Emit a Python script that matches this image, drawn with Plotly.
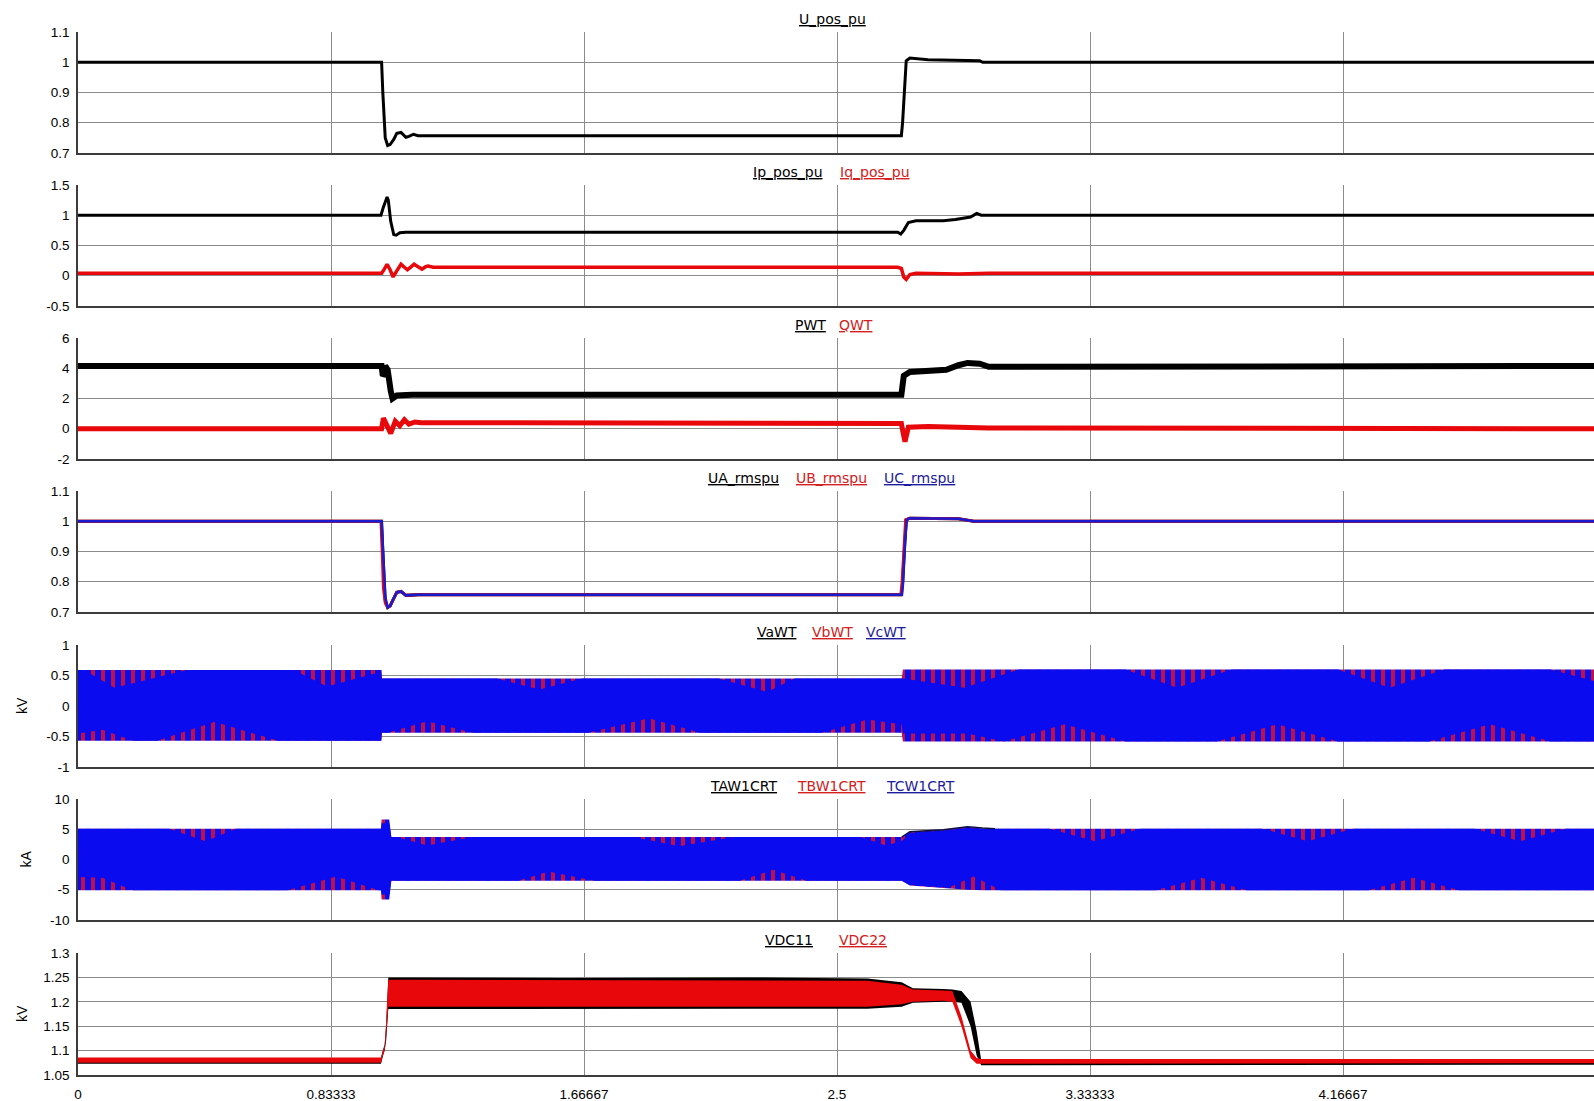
import plotly.graph_objects as go

W, H = 1594, 1101
X_LEFT = 78
T_MAX = 4.9934

# ---------------- axis ticks ----------------
xtick_vals = [0, 0.83333, 1.66667, 2.5, 3.33333, 4.16667]
xtick_text = ["0", "0.83333", "1.66667", "2.5", "3.33333", "4.16667"]

p1_ticks = [0.7, 0.8, 0.9, 1.0, 1.1]
p1_text = ["0.7", "0.8", "0.9", "1", "1.1"]
p2_ticks = [-0.5, 0, 0.5, 1, 1.5]
p2_text = ["-0.5", "0", "0.5", "1", "1.5"]
p3_ticks = [-2, 0, 2, 4, 6]
p3_text = ["-2", "0", "2", "4", "6"]
p4_ticks = [0.7, 0.8, 0.9, 1.0, 1.1]
p4_text = ["0.7", "0.8", "0.9", "1", "1.1"]
p5_ticks = [-1, -0.5, 0, 0.5, 1]
p5_text = ["-1", "-0.5", "0", "0.5", "1"]
p6_ticks = [-10, -5, 0, 5, 10]
p6_text = ["-10", "-5", "0", "5", "10"]
p7_ticks = [1.05, 1.1, 1.15, 1.2, 1.25, 1.3]
p7_text = ["1.05", "1.1", "1.15", "1.2", "1.25", "1.3"]

# ---------------- panel 1: U_pos_pu ----------------
u_t = [0, 1.0, 1.004, 1.008, 1.012, 1.02, 1.028, 1.04, 1.05, 1.064, 1.08, 1.09, 1.105, 1.12,
       2.712, 2.716, 2.722, 2.728, 2.74, 2.8, 2.97, 2.98, 5]
u_v = [1.0, 1.0, 0.9, 0.82, 0.75, 0.725, 0.728, 0.745, 0.765, 0.768, 0.752, 0.755, 0.762, 0.757,
       0.757, 0.80, 0.9, 1.005, 1.014, 1.008, 1.005, 1.0, 1.0]

# ---------------- panel 2: Ip / Iq ----------------
ip_t = [0, 0.998, 1.005, 1.012, 1.018, 1.022, 1.03, 1.04, 1.048, 1.06, 1.08, 2.70, 2.71, 2.72,
        2.735, 2.76, 2.85, 2.89, 2.94, 2.96, 2.975, 5]
ip_v = [1.0, 1.0, 1.12, 1.22, 1.3, 1.25, 0.9, 0.68, 0.67, 0.71, 0.72, 0.72, 0.69, 0.75,
        0.88, 0.91, 0.91, 0.93, 0.97, 1.03, 1.0, 1.0]
iq_t = [0, 1.0, 1.008, 1.018, 1.028, 1.038, 1.05, 1.064, 1.075, 1.085, 1.095, 1.107, 1.12, 1.133,
        1.145, 1.153, 1.17, 2.70, 2.712, 2.72, 2.728, 2.74, 2.76, 2.9, 3.0, 5]
iq_v = [0.04, 0.04, 0.1, 0.19, 0.1, -0.02, 0.08, 0.19, 0.14, 0.1, 0.14, 0.19, 0.15, 0.11,
        0.15, 0.16, 0.14, 0.14, 0.12, -0.02, -0.06, 0.02, 0.04, 0.03, 0.04, 0.04]

# ---------------- panel 3: PWT / QWT ----------------
pwt_t = [0, 1.0, 1.004, 1.008, 1.012, 1.02, 1.03, 1.036, 1.05, 1.1, 2.712, 2.72, 2.74, 2.8,
         2.86, 2.9, 2.93, 2.97, 3.0, 5]
pwt_v = [4.15, 4.15, 3.5, 3.6, 4.15, 3.9, 2.5, 2.0, 2.2, 2.25, 2.25, 3.5, 3.75, 3.8,
         3.9, 4.2, 4.35, 4.3, 4.1, 4.15]
qwt_t = [0, 1.0, 1.006, 1.016, 1.03, 1.045, 1.06, 1.075, 1.09, 1.11, 1.13, 1.2, 2.70, 2.712,
         2.718, 2.724, 2.735, 2.8, 3.0, 5]
qwt_v = [0.0, 0.0, 0.7, 0.2, -0.3, 0.5, 0.2, 0.6, 0.3, 0.45, 0.4, 0.4, 0.42, 0.35,
         -0.3, -0.85, 0.1, 0.15, 0.05, 0.0]

# ---------------- panel 4: UA / UB / UC rms ----------------
ua_t = [0, 1.0, 1.004, 1.008, 1.012, 1.02, 1.028, 1.04, 1.05, 1.064, 1.08, 1.12,
        2.712, 2.716, 2.722, 2.728, 2.74, 2.9, 2.95, 5]
ua_v = [1.0, 1.0, 0.9, 0.8, 0.74, 0.715, 0.72, 0.745, 0.765, 0.768, 0.755, 0.757,
        0.757, 0.80, 0.92, 1.005, 1.01, 1.008, 1.0, 1.0]
ub_t = [0, 0.998, 1.002, 1.006, 1.012, 1.02, 1.028, 1.04, 1.05, 1.064, 1.08, 1.12,
        2.710, 2.714, 2.72, 2.726, 2.74, 2.9, 2.95, 5]
ub_v = [1.0, 1.0, 0.9, 0.78, 0.73, 0.715, 0.72, 0.745, 0.765, 0.768, 0.755, 0.757,
        0.757, 0.79, 0.9, 1.005, 1.01, 1.008, 1.0, 1.0]
uc_t = [0, 1.0, 1.004, 1.008, 1.012, 1.02, 1.028, 1.04, 1.05, 1.064, 1.08, 1.12,
        2.714, 2.718, 2.724, 2.73, 2.74, 2.9, 2.95, 5]
uc_v = [1.0, 1.0, 0.92, 0.82, 0.75, 0.715, 0.72, 0.745, 0.765, 0.768, 0.755, 0.757,
        0.757, 0.80, 0.93, 1.005, 1.01, 1.008, 1.0, 1.0]

# ---------------- panel 5: VaWT / VbWT / VcWT envelopes (kV) ----------------
# outer (peak) envelope of the three phases
vw_t = [0, 0.999, 1.001, 2.713, 2.717, 5]
vw_hi = [0.59, 0.59, 0.45, 0.45, 0.6, 0.6]
vw_lo = [-0.57, -0.57, -0.44, -0.44, -0.58, -0.58]
# inner (blue phase) envelope, where the red peaks show through
vc_hi_t = [0, 0.02, 0.12, 0.36, 0.71, 0.82, 0.99, 0.999, 1.001, 1.38, 1.52, 1.66, 2.11, 2.27,
           2.36, 2.713, 2.717, 2.92, 3.1, 3.45, 3.62, 3.8, 4.15, 4.32, 4.5, 4.85, 5]
vc_hi_v = [0.59, 0.59, 0.3, 0.59, 0.59, 0.32, 0.55, 0.59, 0.45, 0.45, 0.27, 0.45, 0.45, 0.23,
           0.45, 0.45, 0.45, 0.3, 0.6, 0.6, 0.3, 0.6, 0.6, 0.3, 0.6, 0.6, 0.4]
vc_lo_t = [0, 0.08, 0.18, 0.26, 0.45, 0.66, 0.999, 1.001, 1.02, 1.15, 1.3, 1.68, 1.88, 2.05,
           2.45, 2.6, 2.713, 2.717, 2.93, 3.05, 3.25, 3.45, 3.75, 3.95, 4.15, 4.45, 4.65, 4.85, 5]
vc_lo_v = [-0.45, -0.39, -0.57, -0.57, -0.26, -0.57, -0.57, -0.44, -0.44, -0.25, -0.44, -0.44, -0.2, -0.44,
           -0.44, -0.22, -0.3, -0.45, -0.45, -0.58, -0.3, -0.58, -0.58, -0.3, -0.58, -0.58, -0.3, -0.58, -0.58]

# ---------------- panel 6: TAW1CRT / TBW1CRT / TCW1CRT envelopes (kA) ----------------
ia_t = [0, 0.998, 1.0, 1.025, 1.032, 2.713, 2.74, 2.85, 2.93, 2.98, 5]
ia_hi = [5.1, 5.1, 6.6, 6.6, 3.7, 3.7, 4.6, 4.9, 5.4, 5.1, 5.1]
ia_lo = [-5.1, -5.1, -6.6, -6.6, -3.5, -3.5, -4.3, -4.7, -5.0, -5.1, -5.1]
ic_hi_t = [0, 0.3, 0.42, 0.52, 0.998, 1.0, 1.025, 1.032, 1.05, 1.15, 1.3, 1.83, 1.98, 2.16,
           2.58, 2.66, 2.713, 2.74, 2.85, 2.93, 2.98, 3.2, 3.35, 3.5, 3.9, 4.05, 4.2, 4.6, 4.75, 4.9, 5]
ic_hi_v = [5.1, 5.1, 3.0, 5.1, 5.1, 6.0, 6.0, 3.7, 3.7, 2.3, 3.7, 3.7, 2.2, 3.7,
           3.7, 2.3, 3.0, 4.4, 4.8, 5.2, 5.1, 5.1, 3.0, 5.1, 5.1, 3.0, 5.1, 5.1, 3.0, 5.1, 5.1]
ic_lo_t = [0, 0.08, 0.18, 0.69, 0.85, 0.99, 0.998, 1.0, 1.025, 1.032, 1.45, 1.55, 1.7, 2.18,
           2.29, 2.40, 2.713, 2.74, 2.85, 2.87, 2.95, 3.04, 3.55, 3.7, 3.85, 4.25, 4.4, 4.55, 5]
ic_lo_v = [-2.9, -3.0, -5.1, -5.1, -2.8, -5.1, -5.1, -5.8, -5.8, -3.5, -3.5, -2.0, -3.5, -3.5,
           -1.7, -3.5, -3.5, -4.2, -4.6, -4.6, -2.8, -5.1, -5.1, -3.0, -5.1, -5.1, -3.0, -5.1, -5.1]
ia_edge_t = [2.713, 2.74, 2.85, 2.93, 2.98, 3.02]
ia_edge_v = [3.7, 4.6, 4.9, 5.4, 5.2, 5.1]

# ---------------- panel 7: VDC11 / VDC22 (kV) ----------------
vdc_t = [0, 0.998, 1.004, 1.01, 1.015, 1.022, 1.1, 1.6, 2.2, 2.6, 2.713, 2.75, 2.85, 2.88,
         2.91, 2.94, 2.96, 2.975, 3.0, 4.0, 5]
vdc11_hi = [1.085, 1.085, 1.1, 1.112, 1.15, 1.25, 1.25, 1.249, 1.25, 1.248, 1.24, 1.228, 1.226, 1.225,
            1.222, 1.2, 1.14, 1.08, 1.077, 1.077, 1.077]
vdc11_lo = [1.073, 1.073, 1.088, 1.1, 1.12, 1.185, 1.184, 1.185, 1.186, 1.186, 1.19, 1.198, 1.2, 1.2,
            1.198, 1.15, 1.09, 1.07, 1.071, 1.071, 1.071]
vdc22_hi = [1.086, 1.086, 1.1, 1.11, 1.16, 1.245, 1.245, 1.244, 1.244, 1.243, 1.235, 1.225, 1.223, 1.222,
            1.17, 1.1, 1.085, 1.083, 1.083, 1.083, 1.083]
vdc22_lo = [1.075, 1.075, 1.09, 1.1, 1.13, 1.19, 1.19, 1.19, 1.19, 1.19, 1.195, 1.2, 1.202, 1.2,
            1.15, 1.085, 1.073, 1.073, 1.074, 1.074, 1.074]

# ---------------- panel geometry (pixels) ----------------
panels_px = [(32, 153), (185, 306), (338, 459), (491, 612), (645, 767), (799, 920), (953, 1075)]
y_ranges = [(0.7, 1.1), (-0.5, 1.5), (-2, 6), (0.7, 1.1), (-1, 1), (-10, 10), (1.05, 1.3)]
y_ticks = [(p1_ticks, p1_text), (p2_ticks, p2_text), (p3_ticks, p3_text), (p4_ticks, p4_text),
           (p5_ticks, p5_text), (p6_ticks, p6_text), (p7_ticks, p7_text)]

BLACK = "#000000"
RED = "#e8070b"
BLUE = "#0b0bf0"
GRID = "#8c8c8c"
AXIS = "#3c3c3c"
FONT = "Liberation Sans, Arial, sans-serif"

fig = go.Figure()


def ax(idx):
    return ("x" if idx == 1 else f"x{idx}"), ("y" if idx == 1 else f"y{idx}")


def line(t, v, color, width, idx):
    xa, ya = ax(idx)
    fig.add_trace(go.Scatter(x=t, y=v, mode="lines", line=dict(color=color, width=width),
                             xaxis=xa, yaxis=ya, showlegend=False, hoverinfo="skip"))


def band(t_hi, hi, t_lo, lo, color, idx, pattern=None):
    xa, ya = ax(idx)
    xs = list(t_hi) + list(t_lo)[::-1]
    ys = list(hi) + list(lo)[::-1]
    kw = dict(fillcolor=color)
    if pattern:
        kw["fillpattern"] = pattern
    fig.add_trace(go.Scatter(x=xs, y=ys, mode="lines", fill="toself",
                             line=dict(width=0, color=color),
                             xaxis=xa, yaxis=ya, showlegend=False, hoverinfo="skip", **kw))


# panel 1
line(u_t, u_v, BLACK, 3, 1)
# panel 2
line(ip_t, ip_v, BLACK, 3, 2)
line(iq_t, iq_v, RED, 3.5, 2)
# panel 3
line(pwt_t, pwt_v, BLACK, 6, 3)
line(qwt_t, qwt_v, RED, 5, 3)
# panel 4
line(ua_t, ua_v, BLACK, 3, 4)
line(ub_t, ub_v, RED, 3, 4)
line(uc_t, uc_v, "#1a1ad0", 2.5, 4)
# panel 5
stripes = dict(shape="|", fgcolor="#c0104a", bgcolor=BLUE, size=10, solidity=0.4)
band(vw_t, vw_hi, vw_t, vw_lo, BLUE, 5, pattern=stripes)
band(vc_hi_t, vc_hi_v, vc_lo_t, vc_lo_v, BLUE, 5)
# panel 6
band(ia_t, ia_hi, ia_t, ia_lo, BLUE, 6, pattern=stripes)
band(ic_hi_t, ic_hi_v, ic_lo_t, ic_lo_v, BLUE, 6)
line(ia_edge_t, ia_edge_v, "#101040", 1.5, 6)
# panel 7
band(vdc_t, vdc11_hi, vdc_t, vdc11_lo, BLACK, 7)
band(vdc_t, vdc22_hi, vdc_t, vdc22_lo, RED, 7)

layout = dict(template="none", width=W, height=H, margin=dict(l=0, r=0, t=0, b=0, pad=0),
              paper_bgcolor="white", plot_bgcolor="white", showlegend=False,
              font=dict(family=FONT, size=13, color="black"))

for i, ((top, bot), yr, (tv, tt)) in enumerate(zip(panels_px, y_ranges, y_ticks), start=1):
    xname = "xaxis" if i == 1 else f"xaxis{i}"
    yname = "yaxis" if i == 1 else f"yaxis{i}"
    xa, ya = ax(i)
    layout[xname] = dict(domain=[X_LEFT / W, 1], range=[0, T_MAX], anchor=ya,
                         tickvals=xtick_vals, ticktext=xtick_text,
                         showticklabels=(i == 7), ticks="", automargin=False,
                         showgrid=True, gridcolor=GRID, gridwidth=1,
                         showline=True, linecolor=AXIS, linewidth=1.5,
                         zeroline=False, fixedrange=True,
                         tickfont=dict(size=13.5, family=FONT, color="black"), ticklabelstandoff=6)
    layout[yname] = dict(domain=[1 - bot / H, 1 - top / H], range=list(yr), anchor=xa,
                         tickvals=tv, ticktext=tt, ticks="", automargin=False,
                         showgrid=True, gridcolor=GRID, gridwidth=1,
                         showline=True, linecolor=AXIS, linewidth=1.5,
                         zeroline=False, fixedrange=True,
                         tickfont=dict(size=13.5, family=FONT, color="black"), ticklabelstandoff=4)

fig.update_layout(**layout)

# ---------------- titles (legend names) ----------------
RED_T = "#d42020"
BLUE_T = "#1c1c9c"
titles = [
    [("U_pos_pu", BLACK, 833)],
    [("Ip_pos_pu", BLACK, 788), ("Iq_pos_pu", RED_T, 875)],
    [("PWT", BLACK, 810), ("QWT", RED_T, 856)],
    [("UA_rmspu", BLACK, 743), ("UB_rmspu", RED_T, 831), ("UC_rmspu", BLUE_T, 919)],
    [("VaWT", BLACK, 777), ("VbWT", RED_T, 832), ("VcWT", BLUE_T, 886)],
    [("TAW1CRT", BLACK, 744), ("TBW1CRT", RED_T, 831), ("TCW1CRT", BLUE_T, 920)],
    [("VDC11", BLACK, 789), ("VDC22", RED_T, 863)],
]
for (top, bot), items in zip(panels_px, titles):
    for name, col, xc in items:
        fig.add_annotation(x=xc / W, y=1 - (top - 13) / H, xref="paper", yref="paper",
                           text=f"<u>{name}</u>", showarrow=False, xanchor="center", yanchor="middle",
                           font=dict(size=14, color=col, family="DejaVu Sans, sans-serif"))

# y axis unit labels
for (top, bot), unit, xc in zip(panels_px[4:], ["kV", "kA", "kV"], [22, 25, 22]):
    fig.add_annotation(x=xc / W, y=1 - ((top + bot) / 2) / H, xref="paper", yref="paper",
                       text=unit, showarrow=False, textangle=-90, xanchor="center", yanchor="middle",
                       font=dict(size=14, color="black", family=FONT))

fig.write_html("out.html", config={"displayModeBar": False},
               post_script="document.body.style.margin='0px';document.body.style.overflow='hidden';")
